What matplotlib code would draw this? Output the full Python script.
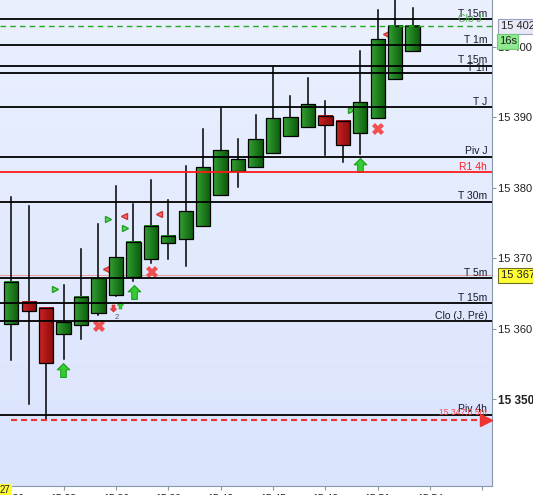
import numpy as np
import matplotlib.pyplot as plt
from matplotlib.patches import Rectangle
from matplotlib.path import Path
from matplotlib.transforms import blended_transform_factory
from matplotlib.colors import LinearSegmentedColormap

plt.rcParams['font.family'] = ['Liberation Sans', 'DejaVu Sans']

# 1-minute candles starting at 15:30
minutes = np.arange(24)
opens = [15360.7, 15363.8, 15363.0, 15359.3, 15360.5, 15362.2, 15364.8, 15367.3,
         15369.85, 15372.2, 15372.75, 15374.6, 15379.0, 15382.4, 15383.0, 15384.9,
         15387.35, 15388.65, 15390.25, 15389.5, 15387.8, 15389.95, 15395.45, 15399.35]
closes = [15366.7, 15362.5, 15355.1, 15361.0, 15364.5, 15367.15, 15370.15, 15372.3,
          15374.6, 15373.2, 15376.65, 15382.95, 15385.35, 15384.05, 15386.95, 15389.85,
          15390.0, 15391.85, 15388.95, 15386.05, 15392.15, 15401.05, 15403.0, 15402.9]
highs = [15378.7, 15377.4, 15363.0, 15366.25, 15371.3, 15374.8, 15380.2, 15377.65,
         15381.15, 15378.25, 15383.05, 15388.4, 15391.3, 15386.95, 15390.3, 15397.15,
         15393.05, 15395.65, 15392.3, 15389.5, 15399.4, 15405.2, 15408.5, 15405.5]
lows = [15355.55, 15349.3, 15347.0, 15355.7, 15358.6, 15362.0, 15364.6, 15366.8,
        15369.35, 15369.85, 15368.85, 15374.6, 15379.0, 15380.1, 15383.0, 15384.9,
        15387.35, 15388.65, 15384.7, 15383.7, 15384.85, 15389.95, 15395.45, 15399.35]

# horizontal reference levels
level_names = ['T 15m', 'T 1m', 'T 15m', 'T 1h', 'T J', 'Piv J', 'R1 4h', 'T 30m',
               'T 5m', 'T 15m', 'Clo (J, Pré)', 'Piv 4h']
level_values = [15403.9, 15400.2, 15397.3, 15396.3, 15391.4, 15384.4, 15382.25, 15378.05,
                15367.2, 15363.6, 15361.1, 15347.8]
level_colors = ['black'] * 6 + ['#ff1a1a'] + ['black'] * 5

last_price = 15402.9      # green dashed
cursor_price = 15367.6    # thin pink line, yellow label
stop_price = 15347.0      # red dashed

# signal markers
up_x = [2.98, 7.01, 20.0]
up_y = [15354.1, 15365.2, 15383.25]
small_up_x = [6.21]
small_up_y = [15363.3]
small_down_x = [5.84]
small_down_y = [15362.95]
cross_x = [5.01, 8.04, 21.02]
cross_y = [15360.45, 15368.0, 15388.4]
buy_tri_x = [2.53, 5.55, 6.53, 19.48]
buy_tri_y = [15365.7, 15375.5, 15374.3, 15391.1]
sell_tri_x = [5.45, 6.49, 8.45, 21.47]
sell_tri_y = [15368.5, 15376.0, 15376.35, 15401.8]

time_ticks = np.arange(0, 28, 3)
time_labels = ['15:30', '15:33', '15:36', '15:39', '15:42', '15:45', '15:48', '15:51', '15:54', '']
price_ticks = [15350, 15360, 15370, 15380, 15390, 15400]

fig = plt.figure(figsize=(5.33, 4.95), dpi=100)
ax = fig.add_axes([0, 9 / 495, 492.2 / 533, 486 / 495])

# background gradient
bg = LinearSegmentedColormap.from_list('bg', ['#dae4fd', '#eaf0fe'])
ax.imshow(np.linspace(0, 1, 100).reshape(-1, 1)[::-1], cmap=bg, aspect='auto',
          extent=[0, 1, 0, 1], transform=ax.transAxes, zorder=0)

# signal markers (under candles)
up_path = Path([(0, 1), (0.9, 0.1), (0.4, 0.1), (0.4, -1), (-0.4, -1), (-0.4, 0.1), (-0.9, 0.1), (0, 1)],
               [Path.MOVETO] + [Path.LINETO] * 6 + [Path.CLOSEPOLY])
down_path = Path(up_path.vertices * [1, -1], up_path.codes)
ax.plot(up_x, up_y, ls='none', marker=up_path, markersize=10, markerfacecolor='#33cc33',
        markeredgecolor='#1e9e1e', markeredgewidth=0.8, zorder=2.5)
ax.plot(small_up_x, small_up_y, ls='none', marker=up_path, markersize=5, markerfacecolor='#33cc33',
        markeredgecolor='#1e9e1e', markeredgewidth=0.5, zorder=2.5)
ax.plot(small_down_x, small_down_y, ls='none', marker=down_path, markersize=5, markerfacecolor='#ee4444',
        markeredgecolor='#cc2222', markeredgewidth=0.5, zorder=2.5)
ax.text(6.02, 15361.65, '2', fontsize=5.5, color='#555566', ha='center', va='center', zorder=2.5)
ax.plot(cross_x, cross_y, ls='none', marker='X', markersize=8, color='#f05050',
        markeredgewidth=0, zorder=2.5)
ax.plot(buy_tri_x, buy_tri_y, ls='none', marker='>', markersize=5, markerfacecolor='#70d070',
        markeredgecolor='#22a022', markeredgewidth=1, zorder=2.5)
ax.plot(sell_tri_x, sell_tri_y, ls='none', marker='<', markersize=5, markerfacecolor='#f07070',
        markeredgecolor='#d03030', markeredgewidth=1, zorder=2.5)

# candles
green = LinearSegmentedColormap.from_list('g', ['#33a033', '#0c5c0c'])
red = LinearSegmentedColormap.from_list('r', ['#cc2222', '#8a0c0c'])
grad = np.linspace(0, 1, 32).reshape(1, -1)
w = 0.82
for t, o, h, l, c in zip(minutes, opens, highs, lows, closes):
    ax.plot([t, t], [l, h], color='black', lw=1.1, zorder=3)
    b0, b1 = min(o, c), max(o, c)
    ax.imshow(grad, cmap=green if c >= o else red, aspect='auto', interpolation='bilinear',
              extent=[t - w / 2, t + w / 2, b0, b1], zorder=3.1)
    ax.add_patch(Rectangle((t - w / 2, b0), w, b1 - b0, facecolor='none',
                           edgecolor='black', lw=0.9, zorder=3.2))

# levels (drawn over the candles)
for name, val, col in zip(level_names, level_values, level_colors):
    ax.axhline(val, color=col, lw=1.3, zorder=4)
    ax.annotate(name, xy=(27.27, val), xytext=(0, 0.3), textcoords='offset points',
                ha='right', va='bottom', fontsize=7.5,
                color='#ff2020' if col != 'black' else '#1a1a2a', zorder=6)

ax.axhline(cursor_price, color='#f0a0a0', lw=0.8, zorder=1.5)
ax.axhline(last_price, color='#22aa22', lw=1.0, dashes=(4, 3), zorder=4)
ax.annotate('Clo J', xy=(27.27, last_price), xytext=(-4, 2), textcoords='offset points',
            ha='right', va='bottom', fontsize=7.5, color='#55aa55', zorder=6)
ax.plot([0, 27.2], [stop_price, stop_price], color='#ee3333', lw=1.5, dashes=(2.9, 1.9), zorder=4)
ax.plot([27.2], [stop_price], marker='>', color='#ee3333', markersize=8, zorder=6, clip_on=False)
ax.annotate('15 347,0 5m', xy=(27.27, stop_price), xytext=(0, 2.5), textcoords='offset points',
            ha='right', va='bottom', fontsize=6.2, color='#ff4444', zorder=6)

ax.set_xlim(-0.642, 27.56)
ax.set_ylim(15337.68, 15406.65)

# axes styling
for s in ['left', 'top']:
    ax.spines[s].set_visible(False)
for s in ['right', 'bottom']:
    ax.spines[s].set_color('#8898a8')
ax.yaxis.tick_right()
ax.set_yticks(price_ticks, [f'{v:,}'.replace(',', ' ') for v in price_ticks])
ax.tick_params(axis='y', length=3, width=0.8, color='#8898a8', pad=1.5, labelsize=8, labelcolor='#202020')
ax.set_xticks(time_ticks, time_labels)
ax.tick_params(axis='x', length=3, width=0.8, color='#8898a8', pad=2.5, labelsize=7.5, labelcolor='#202020')
for lab in ax.get_yticklabels():
    if lab.get_text() == '15 350':
        lab.set_fontweight('bold')
        lab.set_fontsize(8.5)

# right-side price boxes
tr = blended_transform_factory(ax.transAxes, ax.transData)
box_h = 15 / 7.047
ax.add_patch(Rectangle((1.011, last_price - box_h / 2), 0.2, box_h, transform=tr, clip_on=False,
                       facecolor='#e8e8f6', edgecolor='#9aa0c0', lw=0.8, zorder=10))
ax.text(1.018, last_price, '15 402', transform=tr, fontsize=8, va='center', ha='left',
        color='#202020', zorder=11, clip_on=False)
ax.add_patch(Rectangle((1.010, last_price - 1.5 * box_h), 21 / 492.2, box_h, transform=tr, clip_on=False,
                       facecolor='#90e890', edgecolor='#70c870', lw=0.8, zorder=10))
ax.text(1.014, last_price - box_h, '16s', transform=tr, fontsize=8, va='center', ha='left',
        color='#202020', zorder=11, clip_on=False)
ax.add_patch(Rectangle((1.011, cursor_price - box_h / 2), 0.2, box_h, transform=tr, clip_on=False,
                       facecolor='#ffff33', edgecolor='#707020', lw=0.8, zorder=10))
ax.text(1.018, cursor_price, '15 367', transform=tr, fontsize=8, va='center', ha='left',
        color='#202020', zorder=11, clip_on=False)

# cursor time box bottom-left
fig.text(0, 0, '27', fontsize=7, color='#202020', ha='left', va='bottom',
         bbox=dict(boxstyle='square,pad=0.1', facecolor='#ffff33', edgecolor='none'))

fig.savefig('out.png', dpi=100)
